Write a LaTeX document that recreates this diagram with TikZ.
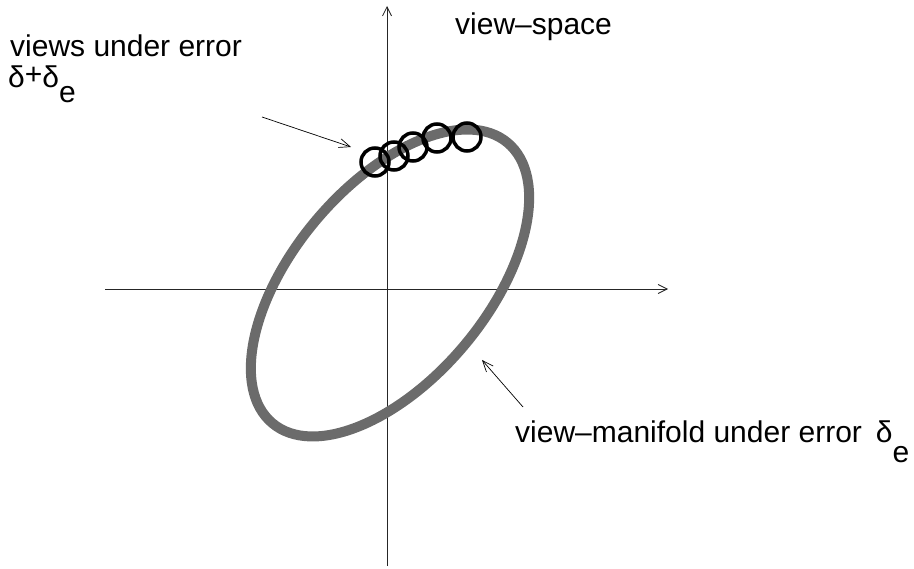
\documentclass[tikz,border=0pt]{standalone}
\usepackage{fontspec}
\setmainfont{Liberation Sans}
\usetikzlibrary{arrows.meta}
\begin{document}
\begin{tikzpicture}[x=1pt,y=-1pt,
  axis/.style={line width=0.8pt,black!85,-{Straight Barb[length=9pt,width=9pt,line width=0.8pt]}},
  pointer/.style={line width=0.7pt,black,-{Straight Barb[length=11pt,width=9pt,line width=0.7pt]}},
  band/.style={line width=10pt,black!58},
  viewring/.style={draw=black,line width=3.5pt,circle,minimum size=28pt,inner sep=0pt},
  lbl/.style={anchor=base west,inner sep=0pt,font=\fontsize{30}{36}\selectfont}]
\useasboundingbox (0,0) rectangle (914,569);
% axes
\coordinate (vb) at (387,566);
\coordinate (vt) at (387,6);
\coordinate (hl) at (105,289);
\coordinate (hr) at (668,289);
\draw[axis] (vb) -- (vt);
\draw[axis] (hl) -- (hr);
% manifold band
\draw[band,rotate around={50:(390,283)}] (390,283) ellipse [x radius=183pt,y radius=97pt];
% views
\node[viewring] (c1) at (375,162) {};
\node[viewring] (c2) at (394,156) {};
\node[viewring] (c3) at (413,147) {};
\node[viewring] (c4) at (437,138) {};
\node[viewring] (c5) at (467,137) {};
% labels
\node[lbl] (t1) at (10,57) {views under error};
\node[lbl] (t2) at (8,88) {δ\raisebox{3pt}{+}δ\raisebox{-15pt}{e}};
\node[lbl] (t3) at (455,35) {view–space};
\node[lbl] (t4) at (515,443) {view–manifold under error\hspace{14pt}δ\raisebox{-20pt}{e}};
% pointers
\coordinate (p1s) at (262,117);
\coordinate (p1e) at (351,147);
\coordinate (p2s) at (523,407);
\coordinate (p2e) at (482,360);
\draw[pointer] (p1s) -- (p1e);
\draw[pointer] (p2s) -- (p2e);
\end{tikzpicture}
\end{document}
